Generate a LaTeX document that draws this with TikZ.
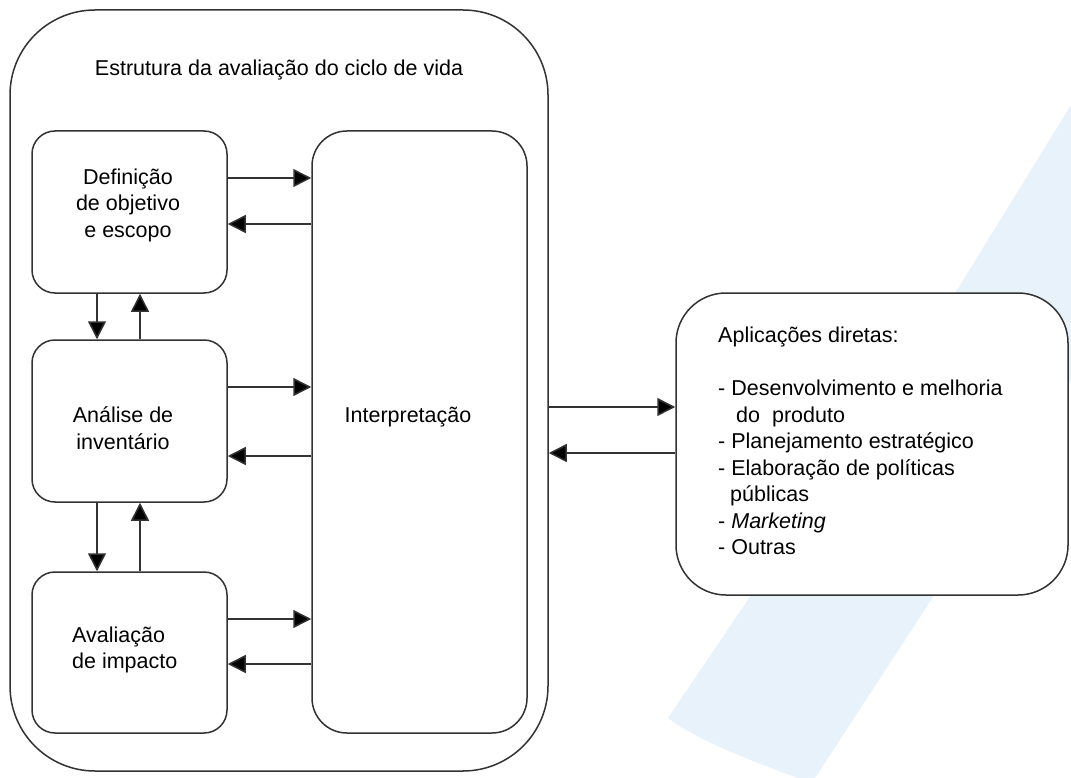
\documentclass[tikz,border=0pt]{standalone}
\usepackage{fontspec}
\setmainfont{Liberation Sans}
\usetikzlibrary{arrows.meta}
\definecolor{wm}{RGB}{231,242,251}
\definecolor{ln}{RGB}{50,50,50}
\begin{document}
\begin{tikzpicture}[x=1pt,y=-1pt,
  rbox/.style={draw=ln,line width=1.5pt,fill=white,rounded corners=#1,inner sep=0pt},
  arr/.style={draw=ln,line width=1.5pt,-{Triangle[length=18pt,width=18pt,fill=black]}},
  txt/.style={font=\fontsize{21.5}{26.5}\selectfont,inner sep=0pt,text=black}]
\useasboundingbox (0,0) rectangle (1071,778);
\fill[white] (0,0) rectangle (1071,778);
% watermark band
\fill[wm] (1071,105) -- (954,295) -- (668,718) .. controls (700,742) and (755,762) .. (798,778)
  -- (815,778) -- (931,600) -- (1071,380) -- cycle;
% boxes
\node[rbox=85pt,minimum width=538pt,minimum height=761pt] (outer) at (279,390.5) {};
\node[rbox=23pt,minimum width=195pt,minimum height=162pt] (def) at (129.5,212) {};
\node[rbox=23pt,minimum width=195pt,minimum height=162pt] (ana) at (129.5,421) {};
\node[rbox=23pt,minimum width=195pt,minimum height=161pt] (ava) at (129.5,652.5) {};
\node[rbox=35pt,minimum width=215pt,minimum height=602pt] (interp) at (419.5,432) {};
\node[rbox=50pt,minimum width=392pt,minimum height=302pt] (apl) at (872,444) {};
% texts
\node[txt] (title) at (279,70) {Estrutura da avaliação do ciclo de vida};
\node[txt,align=center] (defT) at (128,205) {Definição\\de objetivo\\e escopo};
\node[txt,align=center] (anaT) at (123,428) {Análise de\\inventário};
\node[txt,align=left,anchor=west] (avaT) at (72,650) {Avaliação\\de impacto};
\node[txt] (interpT) at (408,417) {Interpretação};
\node[txt,align=left,anchor=west] (aplT) at (718,441) {Aplicações diretas:\\[26.5pt]
- Desenvolvimento e melhoria\\
\hspace*{18pt}do\ \ produto\\
- Planejamento estratégico\\
- Elaboração de políticas\\
\hspace*{12pt}públicas\\
- \textit{Marketing}\\
- Outras};
% horizontal arrows
\draw[arr] ([yshift=34pt]def.east) -- ([yshift=34pt]def.east -| interp.west);
\draw[arr] ([yshift=-12pt]def.east -| interp.west) -- ([yshift=-12pt]def.east);
\draw[arr] ([yshift=34pt]ana.east) -- ([yshift=34pt]ana.east -| interp.west);
\draw[arr] ([yshift=-35pt]ana.east -| interp.west) -- ([yshift=-35pt]ana.east);
\draw[arr] ([yshift=33.5pt]ava.east) -- ([yshift=33.5pt]ava.east -| interp.west);
\draw[arr] ([yshift=-11.5pt]ava.east -| interp.west) -- ([yshift=-11.5pt]ava.east);
% vertical arrows
\draw[arr] ([xshift=-32.5pt]def.south) -- ([xshift=-32.5pt]def.south |- ana.north);
\draw[arr] ([xshift=10.5pt]ana.north) -- ([xshift=10.5pt]ana.north |- def.south);
\draw[arr] ([xshift=-32.5pt]ana.south) -- ([xshift=-32.5pt]ana.south |- ava.north);
\draw[arr] ([xshift=10.5pt]ava.north) -- ([xshift=10.5pt]ava.north |- ana.south);
% outer <-> applications
\draw[arr] ([yshift=37pt]apl.west -| outer.east) -- ([yshift=37pt]apl.west);
\draw[arr] ([yshift=-9pt]apl.west) -- ([yshift=-9pt]apl.west -| outer.east);
\end{tikzpicture}
\end{document}
